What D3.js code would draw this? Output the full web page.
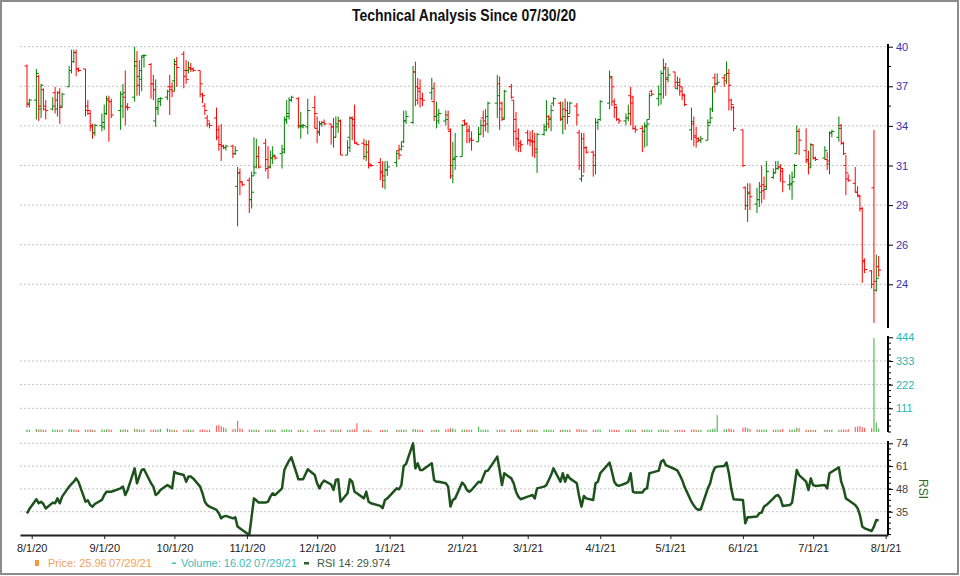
<!DOCTYPE html>
<html>
<head>
<meta charset="utf-8">
<script src="https://cdn.jsdelivr.net/npm/d3@7"></script>
<style>
body { margin: 0; background: #fff; }
svg { display: block; font-family: Arial, "Liberation Sans", sans-serif; }
</style>
</head>
<body>
<svg width="960" height="576"></svg>
<script>
// trading days 07/30/20 .. 07/29/21 (weekdays minus NYSE holidays)
var holidays = ['2020-09-07','2020-11-26','2020-12-25','2021-01-01','2021-01-18','2021-02-15','2021-04-02','2021-05-31','2021-07-05'];
var ymd = d3.utcFormat('%Y-%m-%d');
var days = d3.utcDays(new Date(Date.UTC(2020,6,30)), new Date(Date.UTC(2021,6,30)))
  .filter(function(d){ return d.getUTCDay() % 6 !== 0 && holidays.indexOf(ymd(d)) < 0; });

// one row per month: Jul20, Aug, Sep, Oct, Nov, Dec, Jan21, Feb, Mar, Apr, May, Jun, Jul
var open = [
 38.7,36.2,
 36.4,38.0,35.8,37.1,36.0,35.8,36.9,35.8,36.9,36.0,37.3,38.4,39.0,39.6,38.5,38.5,36.0,35.5,34.6,34.2,34.7,
 34.6,35.5,36.5,36.3,35.7,36.0,36.6,36.0,36.6,39.0,38.0,37.8,39.3,38.8,37.5,35.0,35.8,36.3,36.6,37.3,37.3,
 37.7,38.8,39.5,38.0,38.4,38.6,38.5,38.4,36.8,36.0,35.2,34.8,35.2,33.9,33.4,33.3,33.2,33.3,32.8,30.6,31.5,30.9,
 31.0,29.7,31.3,31.9,32.6,33.5,32.4,31.9,32.5,32.6,32.8,32.9,35.0,35.3,36.4,36.5,34.6,34.6,34.6,35.9,
 34.5,34.2,34.8,34.9,34.8,34.6,33.9,34.6,35.0,32.7,33.9,35.2,35.1,33.5,33.5,32.6,33.4,32.1,32.2,31.5,31.0,31.7,
 32.2,33.0,33.1,33.6,35.0,34.9,38.3,37.3,37.2,36.5,36.9,36.3,35.3,35.0,35.0,35.4,34.3,32.0,32.4,
 32.6,35.0,34.8,34.3,33.8,33.6,34.1,35.2,35.0,35.3,36.2,37.5,35.8,35.2,37.3,36.4,34.3,33.8,33.5,
 34.2,33.7,33.7,33.6,32.9,34.1,34.6,35.3,35.1,36.2,36.2,35.2,35.8,35.7,35.5,36.0,34.2,31.1,33.8,33.2,32.9,32.0,34.9,
 35.1,36.2,37.9,36.3,35.9,35.1,35.0,35.2,36.7,36.2,34.5,34.5,34.3,34.6,35.1,37.0,36.5,36.8,38.2,38.6,37.9,
 38.3,37.2,37.4,37.0,36.7,34.4,34.8,33.9,33.8,33.7,33.7,34.9,35.8,37.9,37.5,37.9,38.1,38.2,36.4,35.9,
 34.4,30.5,29.3,30.2,29.4,29.7,30.6,30.7,30.4,31.2,31.5,31.8,31.9,31.6,30.7,30.7,31.2,32.8,34.3,33.0,32.3,31.9,
 33.4,32.5,32.5,32.4,32.1,34.2,33.9,34.7,33.5,32.0,31.1,30.8,30.2,29.9,29.1,25.5,24.9,30.5,23.6,25.2
];
var high = [
 38.8,36.5,
 38.5,38.1,37.5,37.2,36.4,36.6,37.3,37.0,37.2,36.9,38.7,39.8,39.8,39.8,38.6,38.5,36.4,35.7,34.8,34.8,35.5,
 36.1,36.7,36.7,36.5,37.0,37.5,38.4,36.2,40.0,39.7,39.1,39.4,39.5,38.9,38.1,37.8,36.5,36.6,37.1,38.1,37.6,
 39.2,39.3,39.7,39.1,39.0,38.9,38.6,38.4,36.9,36.2,35.4,34.9,35.9,34.7,34.8,33.4,33.4,33.4,33.3,31.9,31.8,30.9,
 31.2,31.6,33.9,33.8,33.3,33.8,33.3,33.0,33.3,32.7,33.4,35.3,36.4,36.6,36.7,36.6,35.6,34.8,36.5,36.7,
 35.3,35.0,35.0,35.1,34.8,35.2,35.3,35.3,35.1,33.7,35.3,35.3,36.1,33.6,33.8,33.7,33.7,32.1,32.5,32.3,32.3,32.3,
 33.0,33.4,33.6,35.7,35.7,38.7,39.0,37.9,37.8,36.9,37.9,37.6,36.3,35.8,35.7,35.7,34.5,33.6,34.2,
 34.8,35.1,34.9,34.7,34.3,34.6,35.1,35.7,35.8,36.3,38.1,38.0,36.3,37.1,37.5,36.4,35.6,34.5,33.7,
 34.4,34.3,34.4,34.2,34.2,34.8,36.4,35.4,36.1,36.6,36.3,36.3,36.5,36.3,36.3,36.2,34.4,34.2,34.2,33.3,33.0,35.2,35.1,
 36.4,38.4,38.0,36.5,36.0,35.2,35.5,36.1,37.3,36.7,34.7,34.7,34.9,35.1,36.9,37.1,37.4,38.4,39.2,38.9,38.6,
 38.3,38.0,37.9,37.3,36.8,35.9,35.3,34.6,33.9,34.0,35.1,35.9,37.3,38.2,38.2,38.1,39.0,38.5,36.5,36.0,
 34.4,30.6,30.8,30.8,30.5,30.9,32.0,31.25,32.3,31.8,32.3,32.3,32.1,31.8,31.4,31.6,32.1,34.7,34.5,34.5,33.0,33.5,
 33.4,32.6,33.3,32.9,34.3,34.4,35.3,34.8,33.6,32.7,31.4,31.9,30.6,30.0,29.2,25.75,24.96,34.4,26.0,25.9
];
var low = [
 35.9,35.9,
 35.1,35.0,35.2,35.7,35.1,35.7,35.5,35.3,34.8,35.9,37.3,38.2,38.9,38.0,38.3,35.3,35.4,34.3,33.8,34.0,34.3,
 34.4,35.4,33.6,35.2,34.4,35.2,34.7,35.7,36.3,36.7,36.7,37.0,38.6,36.5,36.4,34.6,35.4,36.0,36.4,35.4,36.6,
 37.0,37.3,37.2,37.5,38.2,38.3,38.3,36.6,36.2,35.4,34.6,34.5,33.7,33.0,32.3,33.1,33.0,32.5,32.7,27.9,30.0,30.6,
 28.8,29.1,31.3,31.8,31.8,31.6,31.1,31.8,32.1,32.4,31.8,32.8,34.8,35.1,36.3,34.5,33.8,34.5,34.1,34.5,
 33.5,34.0,34.6,34.7,33.4,33.2,33.9,34.2,32.7,32.7,32.9,33.7,33.5,33.4,32.4,32.3,31.8,31.9,31.0,30.5,30.4,31.3,
 31.9,32.4,33.0,33.5,34.8,34.8,36.0,36.1,35.9,36.0,36.4,35.0,34.5,34.8,34.7,34.4,31.1,30.8,31.7,
 32.6,34.7,33.5,33.5,33.0,33.6,34.1,33.9,34.3,34.2,35.2,34.4,35.0,35.1,36.5,33.3,33.0,32.9,32.9,
 33.4,33.3,32.6,32.5,31.5,34.0,34.3,34.5,34.3,36.0,35.0,34.1,34.4,34.8,35.5,34.7,31.7,30.9,31.5,32.8,31.25,31.4,34.4,
 35.0,35.8,36.0,35.2,35.0,34.8,34.7,35.0,34.7,34.4,34.2,32.9,33.2,33.3,35.1,36.7,36.0,36.1,36.5,36.7,37.6,
 37.2,37.1,36.7,36.4,36.0,33.7,33.3,33.2,33.6,33.5,33.7,34.8,35.6,36.9,37.4,37.3,37.5,35.7,35.7,34.3,
 31.9,29.0,28.2,29.0,28.8,29.2,29.45,29.7,30.35,31.1,31.5,31.7,30.9,30.2,30.35,29.7,31.2,32.8,32.7,32.15,31.4,31.8,
 32.4,32.3,32.4,31.7,31.4,33.9,33.6,33.4,32.7,30.0,30.9,30.2,29.9,28.9,24.1,24.74,23.73,21.4,23.5,24.5
];
var close = [
 36.1,36.4,
 38.2,36.0,37.4,35.8,35.7,36.0,36.4,36.9,35.9,36.8,38.4,39.0,39.6,38.5,38.4,35.7,35.7,34.7,34.2,34.7,34.9,
 35.5,36.4,36.3,35.4,36.8,36.9,35.9,35.9,38.7,37.4,38.4,39.4,39.4,37.5,37.1,35.9,36.5,36.5,37.0,37.1,37.0,
 39.0,38.6,38.4,37.8,38.5,38.5,38.4,37.5,36.7,35.7,35.0,34.7,34.4,33.4,33.3,33.2,33.3,32.8,33.0,31.5,30.9,30.7,
 29.7,30.2,31.5,32.6,31.9,31.8,31.9,32.5,32.7,32.5,33.1,35.1,35.5,36.4,36.6,34.7,34.7,34.7,35.7,35.5,
 34.3,34.8,34.9,34.8,34.6,33.9,34.8,35.0,32.7,33.2,35.2,34.7,33.5,33.4,33.4,32.9,32.0,32.0,31.6,31.3,31.7,31.9,
 32.8,32.7,33.3,35.0,35.3,38.3,36.4,37.0,36.5,36.4,37.2,35.3,35.4,35.5,35.1,34.4,31.3,32.5,32.6,
 34.7,34.8,34.4,33.7,33.7,34.1,34.7,34.7,34.8,36.2,36.7,36.2,35.1,37.0,36.6,35.1,33.8,33.3,33.4,
 33.7,33.6,33.6,33.1,34.1,34.4,34.8,35.2,35.7,36.5,35.1,35.3,35.7,35.3,36.2,35.4,32.0,31.3,33.2,32.9,32.7,34.9,35.1,
 36.3,38.0,37.3,36.1,35.1,35.0,35.2,35.5,36.6,34.5,34.4,34.3,34.7,34.8,36.7,36.8,36.8,38.2,38.5,37.8,38.1,
 37.6,37.6,37.3,36.8,36.1,34.95,34.0,33.6,33.7,33.8,34.7,35.2,37.3,37.5,37.6,37.7,38.2,37.4,36.1,34.5,
 32.0,29.3,30.1,29.9,29.7,30.2,30.3,30.6,31.6,31.5,31.8,31.9,31.8,30.9,30.8,30.9,32.0,34.3,33.7,32.4,32.1,33.4,
 32.5,32.4,33.0,32.3,34.2,34.3,34.5,33.5,32.8,31.5,31.0,30.2,30.0,29.1,25.6,25.0,24.0,24.2,24.4,24.96
];
var volume = [
 12,10,
 14,12,13,10,11,12,10,11,9,12,14,13,12,11,10,12,11,13,10,9,12,
 11,13,12,10,12,11,13,10,15,14,12,11,13,10,11,12,10,14,16,13,11,
 10,9,11,10,12,9,10,11,12,10,9,11,30,34,28,22,16,13,14,52,18,14,
 12,11,10,12,9,11,10,12,11,10,12,11,13,10,11,9,10,8,7,10,
 9,10,8,9,10,11,9,10,12,10,11,12,13,41,10,9,10,6,8,9,10,8,
 11,10,12,11,10,14,13,12,11,10,9,10,11,9,12,14,18,16,12,
 10,11,12,10,11,25,11,10,12,9,11,10,12,11,10,9,11,12,10,
 10,11,12,10,9,11,12,10,11,9,10,12,11,10,12,13,14,11,10,9,10,11,12,
 10,12,11,10,9,11,10,12,11,10,9,11,10,12,11,10,11,12,10,9,10,
 9,10,11,10,9,11,12,10,9,10,11,12,14,16,78,12,13,16,14,11,
 20,22,18,14,11,12,10,11,12,10,11,12,10,14,11,12,11,20,18,10,9,10,
 9,10,11,10,9,12,10,11,12,10,14,24,26,28,22,20,18,440,44,16
];
var rsi = [
 34.0,36.5,
 42.1,39.8,40.7,39.4,36.8,40.2,39.8,42.6,39.8,43.6,49.3,50.8,52.1,54.0,52.0,40.7,41.5,38.8,37.9,39.4,41.7,
 44.5,46.4,46.4,46.4,48.3,49.3,44.5,47.4,59.7,51.2,55.0,58.8,59.2,51.2,49.3,44.5,45.5,47.4,50.2,49.3,48.3,
 57.8,56.9,55.9,52.1,55.0,55.0,54.0,49.3,45.5,40.7,38.8,37.9,36.0,34.1,31.2,32.2,32.6,31.2,31.8,26.5,25.5,24.6,
 21.7,32.2,42.6,41.5,40.2,40.2,40.7,43.6,45.5,44.5,48.3,58.8,61.6,64.1,66.0,53.5,53.5,53.5,59.2,55.9,
 51.2,48.3,51.2,52.7,50.5,47.4,53.1,53.5,40.7,45.5,53.5,52.1,46.4,45.5,42.6,46.4,40.7,39.8,38.3,37.0,41.7,42.6,
 48.3,47.8,50.2,61.1,62.2,74.0,59.7,62.6,58.8,58.8,62.6,53.1,52.1,52.1,51.2,49.3,37.9,41.7,42.6,
 51.6,50.2,47.4,46.4,47.4,52.1,51.6,55.0,58.2,58.4,66.4,58.8,50.2,56.9,54.0,51.2,46.4,43.6,42.1,
 43.6,44.0,44.5,42.6,48.3,49.3,50.2,53.1,55.9,59.7,52.1,56.9,52.1,55.9,54.0,51.2,43.6,37.9,44.0,42.6,41.7,51.2,52.1,
 56.9,63.0,57.8,52.1,50.2,49.7,51.2,52.1,56.9,46.4,45.9,45.9,47.8,48.3,56.9,57.3,58.4,63.5,64.5,61.6,61.0,
 59.2,58.4,55.9,53.1,49.3,40.7,38.5,36.8,36.0,36.4,48.3,51.2,56.9,60.1,60.7,61.1,63.0,56.9,48.3,42.1,
 41.7,28.4,31.8,31.8,32.2,34.1,34.5,37.9,38.8,42.6,44.0,44.5,42.6,38.3,38.8,40.2,49.3,58.8,55.9,52.1,47.4,54.0,
 50.2,49.7,50.2,48.3,56.9,57.8,60.3,52.1,48.3,42.6,41.7,38.8,37.0,33.1,26.5,25.5,24.0,26.5,30.3,30.0
];

var priceTicks = [24, 26.667, 29.333, 32, 34.667, 37.333, 40];
var priceTickLabels = ['24','26','29','31','34','37','40'];
var volTicks = [111, 222, 333, 444];
var rsiTicks = [35, 48, 61, 74];

var n = Math.min(days.length, open.length, high.length, low.length, close.length, volume.length, rsi.length);
if (days.length !== open.length) console.log('length mismatch', days.length, open.length);
var data = d3.range(n).map(function(i){
  return {date: days[i], o: open[i], h: high[i], l: low[i], c: close[i], v: volume[i], r: rsi[i],
          up: close[i] >= open[i], vup: i === 0 || close[i] >= close[i-1]};
});

var svg = d3.select('svg');
var x = d3.scaleUtc().domain([new Date(Date.UTC(2020,6,27)), new Date(Date.UTC(2021,7,2))]).range([20, 888]);
var yP = d3.scaleLinear().domain([24, 40]).range([284.3, 46.7]);
var yV = d3.scaleLinear().domain([0, 444]).range([432, 337.3]);
var yR = d3.scaleLinear().domain([22, 74]).range([534.5, 443.3]);

svg.append('rect').attr('x',1).attr('y',1).attr('width',957).attr('height',573)
  .attr('fill','#fff').attr('stroke','#8c8c8c').attr('stroke-width',2);

svg.append('text').attr('x',464).attr('y',21).attr('text-anchor','middle')
  .attr('font-size',16).attr('font-weight','bold').attr('fill','#111')
  .attr('textLength',224).attr('lengthAdjust','spacingAndGlyphs')
  .text('Technical Analysis Since 07/30/20');

// gridlines
var grid = svg.append('g').attr('stroke','#c4c4c4').attr('stroke-dasharray','2,2');
function hlines(vals, scale) {
  grid.selectAll(null).data(vals).join('line')
    .attr('x1',20).attr('x2',887).attr('y1',function(d){return scale(d);}).attr('y2',function(d){return scale(d);});
}
hlines(priceTicks, yP);
hlines(volTicks.slice(0,3), yV);
hlines(rsiTicks, yR);

// OHLC bars
var bars = svg.append('g').selectAll('g').data(data).join('g')
  .attr('stroke', function(d){ return d.up ? '#008000' : '#ff0000'; }).attr('stroke-width',1);
bars.append('line').attr('x1',function(d){return x(d.date);}).attr('x2',function(d){return x(d.date);})
  .attr('y1',function(d){return yP(d.h);}).attr('y2',function(d){return yP(d.l);});
bars.append('line').attr('x1',function(d){return x(d.date)-2.5;}).attr('x2',function(d){return x(d.date);})
  .attr('y1',function(d){return yP(d.o);}).attr('y2',function(d){return yP(d.o);});
bars.append('line').attr('x1',function(d){return x(d.date);}).attr('x2',function(d){return x(d.date)+2.5;})
  .attr('y1',function(d){return yP(d.c);}).attr('y2',function(d){return yP(d.c);});

// volume
svg.append('g').selectAll('line').data(data).join('line')
  .attr('x1',function(d){return x(d.date);}).attr('x2',function(d){return x(d.date);})
  .attr('y1',yV(0)).attr('y2',function(d){return yV(d.v);})
  .attr('stroke',function(d){ return d.vup ? '#22a022' : '#ff3030'; })
  .attr('stroke-width',1.2).attr('opacity',0.75);

// RSI
svg.append('path').datum(data)
  .attr('d', d3.line().x(function(d){return x(d.date);}).y(function(d){return yR(d.r);}))
  .attr('fill','none').attr('stroke','#1d521d').attr('stroke-width',2.5).attr('stroke-linejoin','round');

// right axes
function rightAxis(scale, ticks, fmt, color, top, bottom, minors) {
  var g = svg.append('g').attr('transform','translate(888,0)');
  g.call(d3.axisRight(scale).tickValues(ticks).tickFormat(fmt).tickSize(5).tickPadding(3));
  g.select('.domain').remove();
  g.selectAll('.tick line').attr('stroke','#000').attr('stroke-width',1);
  g.selectAll('.tick text').attr('fill',color).attr('font-size',11).attr('font-family','Arial, "Liberation Sans", sans-serif');
  g.append('line').attr('x1',0).attr('x2',0).attr('y1',top).attr('y2',bottom).attr('stroke','#000').attr('stroke-width',2);
  g.selectAll('.minor').data(minors).join('line').attr('class','minor')
    .attr('x1',0).attr('x2',3).attr('y1',function(d){return scale(d);}).attr('y2',function(d){return scale(d);})
    .attr('stroke','#000');
}
rightAxis(yP, priceTicks, function(d,i){ return priceTickLabels[i]; }, '#3434b0', 44, 328, [38.667, 36]);
rightAxis(yV, volTicks, d3.format('d'), '#2cb5b5', 336, 432, d3.range(0, 444, 27.75));
rightAxis(yR, rsiTicks, d3.format('d'), '#444', 441, 535, d3.range(22, 74, 3.25));

svg.append('text').attr('transform','translate(919,489) rotate(90)').attr('text-anchor','middle')
  .attr('font-size',12).attr('fill','#2f6a2f').text('RSI');

// x axis
var months = d3.utcMonths(new Date(Date.UTC(2020,7,1)), new Date(Date.UTC(2021,7,2)));
var xa = svg.append('g').attr('transform','translate(0,535)')
  .call(d3.axisBottom(x).tickValues(months).tickFormat(d3.utcFormat('%-m/%-d/%y')).tickSize(4).tickSizeOuter(0).tickPadding(5));
xa.select('.domain').attr('stroke','#222').attr('stroke-width',2);
xa.selectAll('.tick line').attr('stroke','#222');
xa.selectAll('.tick text').attr('fill','#222').attr('font-size',11).attr('font-family','Arial, "Liberation Sans", sans-serif');

// legend
var lg = svg.append('g').attr('font-size',11);
lg.append('rect').attr('x',35).attr('y',560).attr('width',4).attr('height',6).attr('fill','#f39a3c');
lg.append('text').attr('x',48).attr('y',567).attr('fill','#f4a25a').text('Price: 25.96');
lg.append('text').attr('x',109).attr('y',567).attr('fill','#f4a25a').text('07/29/21');
lg.append('rect').attr('x',172).attr('y',562.5).attr('width',4).attr('height',1.5).attr('fill','#3cc4c4');
lg.append('text').attr('x',181).attr('y',567).attr('fill','#3cbcbc').text('Volume: 16.02');
lg.append('text').attr('x',254).attr('y',567).attr('fill','#3cbcbc').text('07/29/21');
lg.append('rect').attr('x',304).attr('y',562).attr('width',5).attr('height',2.5).attr('fill','#2f5f2f');
lg.append('text').attr('x',317).attr('y',567).attr('fill','#3d5a3d').text('RSI 14: 29.974');
</script>
</body>
</html>
